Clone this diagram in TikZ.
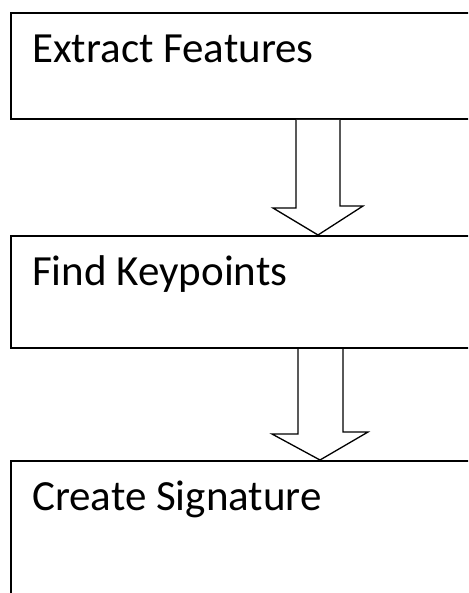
\documentclass[tikz,border=0pt]{standalone}
\usepackage{fontspec}
\setmainfont{Carlito}
\begin{document}
\begin{tikzpicture}[x=1pt,y=-1pt,
  stepbox/.style={draw=black, line width=2pt, rectangle, minimum width=520pt, minimum height=106pt, anchor=north west, inner sep=0pt},
  steptext/.style={anchor=base west, inner sep=0pt, font=\fontsize{43}{50}\selectfont},
  blockarrow/.style={draw=black, line width=1.3pt, fill=white, line join=miter}]
\useasboundingbox (0,0) rectangle (468,593);
\clip (0,0) rectangle (468,593);
\node[stepbox] (b1) at (10,12) {};
\node[stepbox, minimum height=112pt] (b2) at (10,235) {};
\node[stepbox, minimum height=200pt] (b3) at (10,460) {};
\node[steptext] (t1) at (32,63) {Extract Features};
\node[steptext] (t2) at (32,285) {Find Keypoints};
\node[steptext] (t3) at (32,510) {Create Signature};
% block arrow from b1 to b2
\draw[blockarrow] ([xshift=286pt]b1.south west) -- ++(0,88) -- ++(-23,0)
  -- ([xshift=308pt]b2.north west) -- ++(45,-29) -- ++(-23,0)
  -- ([xshift=330pt]b1.south west);
% block arrow from b2 to b3
\draw[blockarrow] ([xshift=288pt]b2.south west) -- ++(0,85) -- ++(-26,0)
  -- ([xshift=310pt]b3.north west) -- ++(48,-28) -- ++(-25,0)
  -- ([xshift=333pt]b2.south west);
\end{tikzpicture}
\end{document}
